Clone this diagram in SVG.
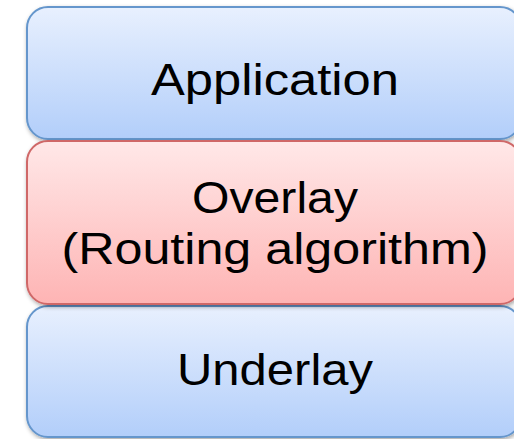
<svg xmlns="http://www.w3.org/2000/svg" width="514" height="439" viewBox="0 0 514 439">
<defs>
<linearGradient id="gBlue" x1="0" y1="0" x2="0" y2="1">
<stop offset="0" stop-color="#e8f0fe"/>
<stop offset="1" stop-color="#b2cefa"/>
</linearGradient>
<linearGradient id="gRed" x1="0" y1="0" x2="0" y2="1">
<stop offset="0" stop-color="#ffe8e8"/>
<stop offset="1" stop-color="#feb4b4"/>
</linearGradient>
<filter id="sh" x="-10%" y="-10%" width="120%" height="130%">
<feDropShadow dx="1" dy="2" stdDeviation="2" flood-color="#000" flood-opacity="0.35"/>
</filter>
</defs>
<style>
.blue{fill:url(#gBlue);stroke:#6596cc;stroke-width:2;filter:url(#sh)}
.red{fill:url(#gRed);stroke:#cf6868;stroke-width:2;filter:url(#sh)}
.t{font-family:"Liberation Sans","Open Sans",sans-serif;font-size:45px;fill:#000;text-anchor:middle}
</style>
<rect width="514" height="439" fill="#fff"/>
<g id="application">
<rect class="blue" x="27" y="7" width="494" height="132" rx="21"/>
<text class="t" x="275" y="95" textLength="248" lengthAdjust="spacingAndGlyphs">Application</text>
</g>
<g id="underlay">
<rect class="blue" x="27" y="306" width="494" height="131" rx="21"/>
<text class="t" x="275" y="385" textLength="196" lengthAdjust="spacingAndGlyphs">Underlay</text>
</g>
<g id="overlay">
<rect class="red" x="27" y="141" width="494" height="163" rx="21"/>
<text class="t" x="275" y="213" textLength="166" lengthAdjust="spacingAndGlyphs">Overlay</text>
<text class="t" x="275" y="264" textLength="427" lengthAdjust="spacingAndGlyphs">(Routing algorithm)</text>
</g>
<g id="connectors"></g>
</svg>
